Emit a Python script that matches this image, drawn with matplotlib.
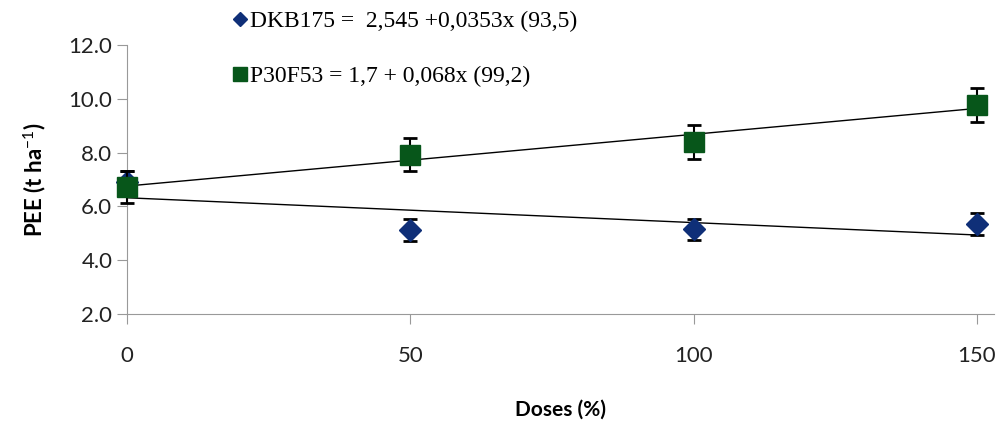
import numpy as np
import matplotlib.pyplot as plt
from matplotlib.lines import Line2D

# Dados
doses = [0, 50, 100, 150]
dkb175 = [6.9, 5.12, 5.15, 5.35]
dkb175_err = [0.4, 0.4, 0.4, 0.4]
p30f53 = [6.72, 7.92, 8.4, 9.77]
p30f53_err = [0.6, 0.62, 0.62, 0.64]
label_dkb = "DKB175 =  2,545 +0,0353x (93,5)"
label_p30 = "P30F53 = 1,7 + 0,068x (99,2)"
yticks = [2.0, 4.0, 6.0, 8.0, 10.0, 12.0]
xticks = [0, 50, 100, 150]

c_dkb = "#0f2f78"
c_p30 = "#07561a"

plt.rcParams["font.family"] = ["Lato", "DejaVu Sans"]
plt.rcParams["mathtext.fontset"] = "custom"
plt.rcParams["mathtext.rm"] = "Lato"
plt.rcParams["mathtext.bf"] = "Lato:bold"

fig = plt.figure(figsize=(9.99, 4.22), dpi=100)
ax = fig.add_axes([0.127, 0.256, 0.868, 0.637])

x = np.array(doses)
xx = np.array([0, 150])
for y in (dkb175, p30f53):
    b, a = np.polyfit(x, y, 1)
    ax.plot(xx, a + b * xx, color="black", lw=1, zorder=2)

ax.errorbar(doses, dkb175, yerr=dkb175_err, fmt="D", color=c_dkb, ms=11,
            ecolor="black", elinewidth=1.5, capsize=5, capthick=2, clip_on=False, zorder=3)
ax.errorbar(doses, p30f53, yerr=p30f53_err, fmt="s", color=c_p30, ms=14,
            ecolor="black", elinewidth=1.5, capsize=5, capthick=2, clip_on=False, zorder=4)

ax.set_xlim(0, 153)
ax.set_ylim(2, 12)
ax.set_xticks(xticks)
ax.set_yticks(yticks)
ax.set_yticklabels([f"{v:.1f}" for v in yticks])
for s in ("top", "right"):
    ax.spines[s].set_visible(False)
for s in ("left", "bottom"):
    ax.spines[s].set_color("#999999")
ax.tick_params(axis="both", color="#999999", length=7, labelsize=16, labelcolor="#222222")
ax.tick_params(axis="x", pad=16)
ax.set_xlabel("Doses (%)", fontsize=15, fontweight="bold", labelpad=24)
ax.set_ylabel("PEE (t ha$^{-1}$)", fontsize=16, fontweight="bold", labelpad=14)

handles = [
    Line2D([], [], marker="D", color=c_dkb, ls="none", ms=7),
    Line2D([], [], marker="s", color=c_p30, ls="none", ms=10),
]
fig.legend(handles, [label_dkb, label_p30], loc="upper left", bbox_to_anchor=(0.212, 1.025),
           frameon=False, handlelength=0.6, handletextpad=0.1, labelspacing=1.4,
           prop={"family": "Liberation Serif", "size": 17})

fig.savefig("out.png", dpi=100)
